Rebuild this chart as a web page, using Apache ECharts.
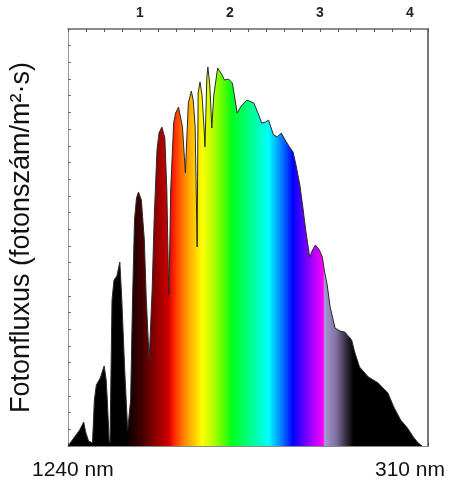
<!DOCTYPE html>
<html>
<head>
<meta charset="utf-8">
<script src="https://cdn.jsdelivr.net/npm/echarts@6/dist/echarts.min.js"></script>
<style>
  html, body { margin: 0; padding: 0; background: #fff; }
  #chart { width: 454px; height: 483px; }
</style>
</head>
<body>
<div id="chart"></div>
<script>
// photon energy (eV) and photon flux (arbitrary units)
const energyEv = [
  0.200, 0.265, 0.330, 0.374, 0.396, 0.428, 0.472, 0.493, 0.515, 0.559,
  0.602, 0.624, 0.635, 0.646, 0.657, 0.667, 0.689, 0.711, 0.743, 0.776,
  0.798, 0.830, 0.852, 0.863, 0.874, 0.896, 0.917, 0.939, 0.961, 0.983,
  1.015, 1.048, 1.070, 1.102, 1.135, 1.157, 1.189, 1.211, 1.243, 1.276,
  1.298, 1.320, 1.330, 1.341, 1.374, 1.396, 1.428, 1.472, 1.504, 1.537,
  1.570, 1.591, 1.613, 1.635, 1.646, 1.667, 1.689, 1.711, 1.722, 1.743,
  1.754, 1.776, 1.798, 1.820, 1.863, 1.907, 1.939, 1.983, 2.026, 2.048,
  2.080, 2.124, 2.189, 2.265, 2.320, 2.352, 2.396, 2.428, 2.483, 2.526,
  2.570, 2.613, 2.646, 2.700, 2.733, 2.776, 2.809, 2.841, 2.885, 2.917,
  2.950, 2.993, 3.026, 3.048, 3.080, 3.113, 3.167, 3.222, 3.276, 3.352,
  3.385, 3.439, 3.537, 3.646, 3.754, 3.820, 3.896, 3.972, 4.037, 4.091,
  4.135
];
const photonFlux = [
  0, 0.48, 0.96, 1.44, 0.84, 0.30, 0.18, 2.76, 3.66, 4.08,
  4.80, 3.96, 2.94, 2.88, 0.36, 0.18, 8.75, 9.95, 10.19, 11.03,
  8.75, 4.56, 2.16, 0.96, 1.56, 2.76, 8.75, 13.55, 14.87, 15.23,
  14.75, 12.35, 8.75, 5.16, 9.35, 13.55, 17.75, 18.76, 19.12, 18.47,
  15.35, 9.05, 11.75, 15.35, 19.36, 19.96, 20.32, 19.12, 16.37, 20.56,
  21.28, 20.74, 19.12, 11.93, 21.16, 21.82, 21.04, 19.12, 17.93, 22.12,
  22.72, 21.64, 19.06, 21.04, 22.66, 22.30, 21.94, 22.00, 21.76, 21.04,
  19.96, 20.38, 20.74, 20.56, 19.84, 19.36, 19.42, 19.54, 18.65, 18.53,
  18.76, 18.35, 18.05, 17.63, 16.85, 15.65, 14.33, 12.95, 11.33, 11.75,
  12.05, 11.75, 11.33, 10.55, 9.65, 8.33, 7.07, 6.89, 6.83, 6.35,
  5.64, 4.74, 4.14, 3.78, 3.18, 2.34, 1.56, 1.08, 0.54, 0.18,
  0
];
const energyTicks = [1, 2, 3, 4];
const wavelengthLabels = ['1240 nm', '310 nm'];
const yTitle = 'Fotonfluxus (fotonszám/m²·s)';

// spectrum colours by photon energy (eV)
const colorStops = [
  [0.200, '#000000'], [0.830, '#000000'], [1.015, '#400000'], [1.178, '#900000'],
  [1.320, '#d00000'], [1.374, '#ff2000'], [1.483, '#ff8000'], [1.613, '#ffd000'],
  [1.689, '#ffff00'], [1.798, '#c0ff00'], [1.917, '#60ff00'], [2.026, '#00ff20'],
  [2.211, '#00ff80'], [2.428, '#00ffff'], [2.570, '#0080ff'], [2.700, '#0000ff'],
  [2.863, '#8000ff'], [3.037, '#ff00ff'], [3.045, '#a898d8'], [3.180, '#8070a0'],
  [3.298, '#302838'], [3.374, '#000000'], [4.135, '#000000']
];

const xMin = energyEv[0];
const xMax = energyEv[energyEv.length - 1];
const gradient = new echarts.graphic.LinearGradient(0, 0, 1, 0,
  colorStops.map(([ev, c]) => ({ offset: (ev - xMin) / (xMax - xMin), color: c })));

const chart = echarts.init(document.getElementById('chart'));

const baseX = {
  type: 'value',
  min: 0.2,
  max: 4.2,
  interval: 0.2,
  splitLine: { show: false },
  axisTick: { inside: true, length: 3, lineStyle: { color: '#555' } },
};

chart.setOption({
  animation: false,
  grid: { left: 60, right: 26, top: 29, bottom: 37 },
  xAxis: [
    Object.assign({}, baseX, {
      position: 'top',
      axisLine: { show: true, onZero: false, lineStyle: { color: '#666', width: 1.5 } },
      axisLabel: {
        margin: 9,
        fontFamily: 'Liberation Sans',
        fontSize: 14,
        fontWeight: 'bold',
        color: '#222',
        formatter: (v) => (energyTicks.includes(Math.round(v * 10) / 10) ? String(Math.round(v)) : ''),
      },
    }),
    Object.assign({}, baseX, {
      position: 'bottom',
      axisLine: { show: true, onZero: false, lineStyle: { color: '#888', width: 1 } },
      axisLabel: { show: false },
    }),
  ],
  yAxis: [
    {
      type: 'value',
      position: 'left',
      min: 0,
      max: 25,
      interval: 1,
      name: yTitle,
      nameLocation: 'middle',
      nameRotate: 90,
      nameGap: 33,
      nameTextStyle: { fontFamily: 'Liberation Sans', fontSize: 27, color: '#111' },
      splitLine: { show: false },
      axisLine: { show: true, onZero: false, lineStyle: { color: '#999', width: 1 } },
      axisTick: { inside: true, length: 3, lineStyle: { color: '#777' } },
      axisLabel: { show: false },
    },
    {
      type: 'value',
      position: 'right',
      min: 0,
      max: 25,
      splitLine: { show: false },
      axisLine: { show: true, onZero: false, lineStyle: { color: '#777', width: 2 } },
      axisTick: { show: false },
      axisLabel: { show: false },
    },
  ],
  series: [
    {
      type: 'line',
      data: energyEv.map((e, i) => [e, photonFlux[i]]),
      symbol: 'none',
      smooth: false,
      lineStyle: { color: '#2a2a2a', width: 1 },
      areaStyle: { color: gradient, opacity: 1 },
      markPoint: {
        silent: true,
        label: { show: false },
        data: [
          { coord: [0.765, -0.2], symbol: 'rect', symbolSize: [11, 5], itemStyle: { color: '#ff0000' } },
          { coord: [2.0, -0.15], symbol: 'circle', symbolSize: [6, 4], itemStyle: { color: '#3030ff' } },
        ],
      },
    },
  ],
  graphic: [
    {
      type: 'text', left: 32, top: 460,
      style: { text: wavelengthLabels[0], font: '21px "Liberation Sans"', fill: '#111' },
    },
    {
      type: 'text', left: 375, top: 460,
      style: { text: wavelengthLabels[1], font: '21px "Liberation Sans"', fill: '#111' },
    },
  ],
});
</script>
</body>
</html>
